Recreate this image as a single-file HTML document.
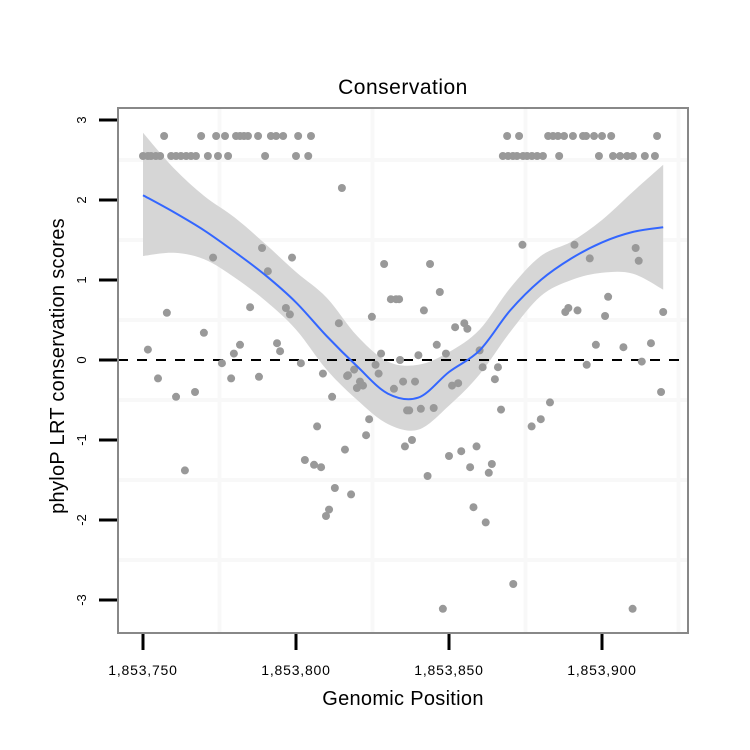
<!DOCTYPE html>
<html><head><meta charset="utf-8"><style>
html,body{margin:0;padding:0;background:#fff;}
svg{display:block;font-family:"Liberation Sans",sans-serif;}
</style></head><body>
<svg id="chart" width="750" height="750" viewBox="0 0 750 750" xmlns="http://www.w3.org/2000/svg">
<rect width="750" height="750" fill="#fff"/>
<text x="403" y="94" font-size="21" text-anchor="middle" fill="#000" letter-spacing="0.5">Conservation</text>
<g id="grid"></g>
<g id="band"></g>
<line x1="118" x2="688" y1="360" y2="360" stroke="#000" stroke-width="2" stroke-dasharray="10,9"/>
<g id="points"></g>
<g id="fit"></g>
<rect x="118" y="108" width="570" height="525" fill="none" stroke="#888" stroke-width="2"/>
<g id="axes"></g>
<text x="403" y="705" font-size="20" text-anchor="middle" letter-spacing="0.3">Genomic Position</text>
<text transform="translate(64,366) rotate(-90)" font-size="20" text-anchor="middle" letter-spacing="0.3">phyloP LRT conservation scores</text>
</svg>
<script>
const xTicks=[0,50,100,150];
const xTickLabels=["1,853,750","1,853,800","1,853,850","1,853,900"];
const yTicks=[-3,-2,-1,0,1,2,3];
const ptX=[0,1.6,2.6,4.2,5.6,9.2,10.8,12.4,14.1,15.7,17.3,21.2,24.5,27.8,39.9,50,54,
6.9,19,23.9,26.8,30.4,31.7,33,34.3,37.6,41.8,43.5,45.8,50.7,54.9,
119,122.9,132.4,134,135.6,137.6,140.5,143.8,144.8,147.4,150,153,168,
117.6,119.3,120.9,122.2,124.2,125.5,127.1,128.8,130.7,136,149,153.6,155.9,158.2,160.1,164,167.3,
65,38.9,48.7,22.9,40.8,78.8,81,82.7,83.7,7.8,35,46.7,48,64,74.8,19.9,1.6,31.7,29.7,43.8,44.8,77.8,84,25.8,51.6,76,77,69,67,
4.9,28.8,37.9,10.8,17,58.8,66.7,70.9,71.9,69.9,61.8,82,85,86.3,73.9,72.9,85.6,56.9,66,52.9,55.9,58.2,13.7,62.7,68,60.8,59.8,
111,116,115,145,163,169.3,88.9,101,103,87,90.8,95,117,133,130,127,87.9,100,104,109,93,106.9,114,113,108,112,121,98,160,
124,93.8,97,91.8,141,146,161,162,152,151,138,139,142,170,102,105,106,96,99,90,110,148,157,166];
const ptY=[2.55,2.55,2.55,2.55,2.55,2.55,2.55,2.55,2.55,2.55,2.55,2.55,2.55,2.55,2.55,2.55,2.55,
2.8,2.8,2.8,2.8,2.8,2.8,2.8,2.8,2.8,2.8,2.8,2.8,2.8,2.8,
2.8,2.8,2.8,2.8,2.8,2.8,2.8,2.8,2.8,2.8,2.8,2.8,2.8,
2.55,2.55,2.55,2.55,2.55,2.55,2.55,2.55,2.55,2.55,2.55,2.55,2.55,2.55,2.55,2.55,2.55,
2.15,1.4,1.28,1.28,1.11,1.2,0.76,0.76,0.76,0.59,0.66,0.65,0.57,0.46,0.54,0.34,0.13,0.19,0.08,0.21,0.11,0.08,0.0,-0.04,-0.04,-0.06,-0.17,-0.12,-0.19,
-0.23,-0.23,-0.21,-0.46,-0.4,-0.17,-0.2,-0.27,-0.32,-0.35,-0.46,-0.36,-0.27,-0.63,-0.74,-0.94,-1.08,-0.83,-1.12,-1.25,-1.31,-1.34,-1.38,-1.6,-1.68,-1.87,-1.95,
-0.09,-0.09,-0.24,-0.06,-0.02,-0.4,-0.27,-0.32,-0.29,-0.63,-0.61,-0.6,-0.62,-0.53,-0.74,-0.83,-1.0,-1.2,-1.14,-1.08,-1.45,-1.34,-1.3,-1.41,-1.84,-2.03,-2.8,-3.11,-3.11,
1.44,1.2,0.85,0.62,1.44,1.27,1.4,1.24,0.79,0.55,0.6,0.65,0.62,0.6,0.41,0.46,0.39,0.19,0.08,0.06,0.12,0.19,0.16,0.21];
const fitX=[0,10,20,30,40,50,60,70,80,90,100,110,120,130,140,150,160,170];
const fitY=[2.06,1.85,1.62,1.35,1.06,0.72,0.3,-0.08,-0.42,-0.47,-0.15,0.12,0.62,1.0,1.27,1.47,1.6,1.66];
const upperY=[2.84,2.4,2.05,1.78,1.45,1.1,0.78,0.3,-0.02,-0.06,0.1,0.38,0.9,1.3,1.48,1.75,2.1,2.44];
const lowerY=[1.3,1.34,1.26,1.03,0.74,0.38,-0.12,-0.5,-0.8,-0.87,-0.57,-0.18,0.35,0.8,1.0,1.09,1.08,0.88];

const NS="http://www.w3.org/2000/svg";
const sx=v=>143+v*3.06;
const sy=v=>360-v*80;
function mk(tag,attrs,parent){const e=document.createElementNS(NS,tag);for(const k in attrs)e.setAttribute(k,attrs[k]);parent.appendChild(e);return e;}
function curve(xs,ys){
  const p=xs.map((x,i)=>[sx(x),sy(ys[i])]);
  let d="";
  for(let i=0;i<p.length-1;i++){
    const p0=p[Math.max(0,i-1)],p1=p[i],p2=p[i+1],p3=p[Math.min(p.length-1,i+2)];
    const c1=[p1[0]+(p2[0]-p0[0])/6,p1[1]+(p2[1]-p0[1])/6];
    const c2=[p2[0]-(p3[0]-p1[0])/6,p2[1]-(p3[1]-p1[1])/6];
    d+=(i===0?"M"+p1[0]+","+p1[1]:"")+"C"+c1[0]+","+c1[1]+" "+c2[0]+","+c2[1]+" "+p2[0]+","+p2[1];
  }
  return d;
}
const grid=document.getElementById('grid');
[25,75,125,175].forEach(v=>{const x=sx(v);if(x<688){const l=mk('line',{x1:x,x2:x,y1:109,y2:632,stroke:'#f8f8f8','stroke-width':4},grid);

}});
[2.5,1.5,0.5,-0.5,-1.5,-2.5].forEach(v=>{const l=mk('line',{x1:119,x2:687,y1:sy(v),y2:sy(v),stroke:'#f8f8f8','stroke-width':4},grid);

});

const band=document.getElementById('band');
const rx=fitX.slice().reverse(),rl=lowerY.slice().reverse();
let bd=curve(fitX,upperY);
bd+="L"+sx(rx[0])+","+sy(rl[0])+curve(rx,rl).replace(/^M[^C]*/,"")+"Z";
const bp=mk('path',{d:bd,fill:'#d6d6d6'},band);



const pts=document.getElementById('points');
ptX.forEach((x,i)=>{const c=mk('circle',{cx:sx(x),cy:sy(ptY[i]),r:4,fill:'#999'},pts);

});

const fit=document.getElementById('fit');
const fp=mk('path',{d:curve(fitX,fitY),fill:'none',stroke:'#3366ff','stroke-width':2},fit);



const axes=document.getElementById('axes');
xTicks.forEach((v,i)=>{const x=sx(v);
const t=mk('line',{x1:x,x2:x,y1:634,y2:650,stroke:'#000','stroke-width':3},axes);


const tx=mk('text',{x:x,y:675,'font-size':14,'text-anchor':'middle','letter-spacing':'0.8'},axes);tx.textContent=xTickLabels[i];

});
yTicks.forEach(v=>{const y=sy(v);
const t=mk('line',{x1:99,x2:117,y1:y,y2:y,stroke:'#000','stroke-width':3},axes);


const tx=mk('text',{transform:'translate(86,'+y+') rotate(-90)','font-size':13,'text-anchor':'middle'},axes);tx.textContent=String(v);

});
</script>
</body></html>
